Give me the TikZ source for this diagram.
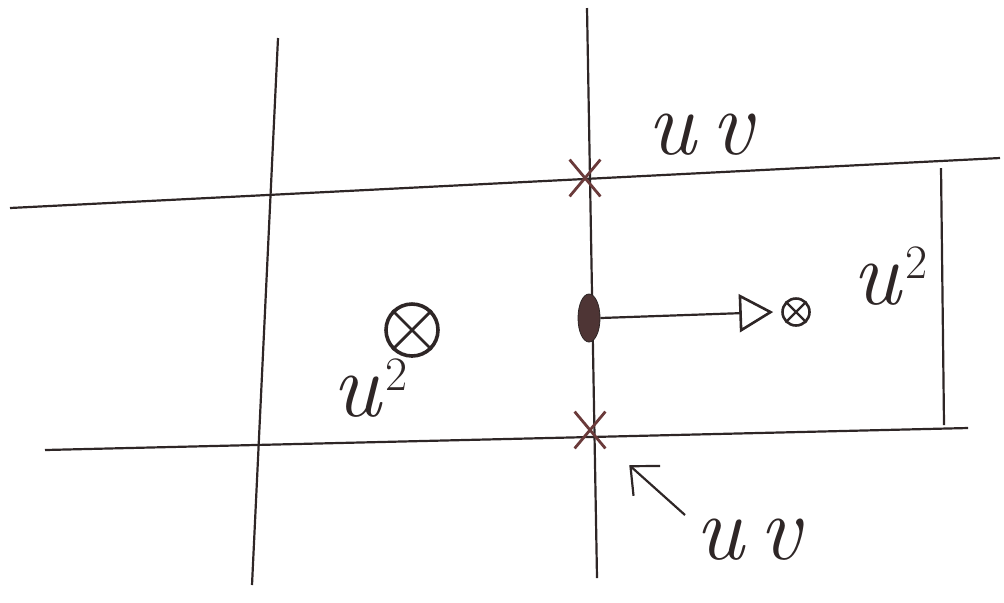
\documentclass[tikz,border=0pt]{standalone}
\usepackage{fontspec}
\usetikzlibrary{arrows.meta,shapes.misc,shapes.geometric}
\definecolor{inkc}{HTML}{2E2626}
\definecolor{redink}{HTML}{6A3A3A}
\definecolor{dotink}{HTML}{4E3535}
\newcommand{\sqsup}{\kern2pt\raisebox{13pt}{\fontsize{24}{24}\selectfont\upshape 2}}
\begin{document}
\begin{tikzpicture}[x=0.5pt,y=-0.5pt,
  gridline/.style={draw=inkc,line width=1.1pt},
  crossmark/.style={cross out,draw=redink,line width=1.4pt,minimum width=14pt,minimum height=17pt,inner sep=0pt},
  otimes/.style={circle,draw=inkc,line width=1.3pt,inner sep=0pt},
  lbl/.style={text=inkc,font=\fontsize{46}{46}\selectfont\itshape,inner sep=0pt},
  conn/.style={draw=inkc,line width=1.1pt}]
\useasboundingbox (0,0) rectangle (1004,602);
% grid lines
\coordinate (L1) at (278,38);  \coordinate (L2) at (252,585);
\coordinate (M1) at (587,8);   \coordinate (M2) at (597,578);
\coordinate (T1) at (10,208);  \coordinate (T2) at (1000,158);
\coordinate (B1) at (45,450);  \coordinate (B2) at (968,428);
\coordinate (R1) at (941,168); \coordinate (R2) at (944,425);
\draw[gridline] (L1) -- (L2);
\draw[gridline] (M1) -- (M2);
\draw[gridline] (T1) -- (T2);
\draw[gridline] (B1) -- (B2);
\draw[gridline] (R1) -- (R2);
% corner marks
\node[crossmark] (c1) at (585,178) {};
\node[crossmark] (c2) at (590,430) {};
% face dot
\node[ellipse,fill=dotink,draw=inkc,minimum width=11pt,minimum height=24pt,inner sep=0pt] (dot) at (589,318) {};
% right otimes
\node[otimes,minimum size=13.5pt] (o2) at (796,312) {};
\draw[inkc,line width=1.1pt] (o2.45) -- (o2.225) (o2.135) -- (o2.315);
\draw[conn,-{Triangle[open,length=17pt,width=19pt,line width=1.3pt]}] (dot.east) -- ([xshift=-4pt]o2.west);
% left otimes
\node[otimes,minimum size=26pt,line width=1.8pt] (o1) at (412,330) {};
\draw[inkc,line width=1.4pt] (o1.45) -- (o1.225) (o1.135) -- (o1.315);
% labels
\node[lbl] (u2r) at (890,276) {u\sqsup};
\node[lbl] (u2l) at (370,388) {u\sqsup};
\node[lbl] (uvt) at (700,135) {u\,v};
\node[lbl] (uvb) at (748,540) {u\,v};
% arrow to lower corner
\coordinate (as) at (685,515);
\draw[conn,-{Straight Barb[length=11pt,width=20pt,line width=1.1pt]},shorten >=16pt] (as) -- (c2);
\end{tikzpicture}
\end{document}
